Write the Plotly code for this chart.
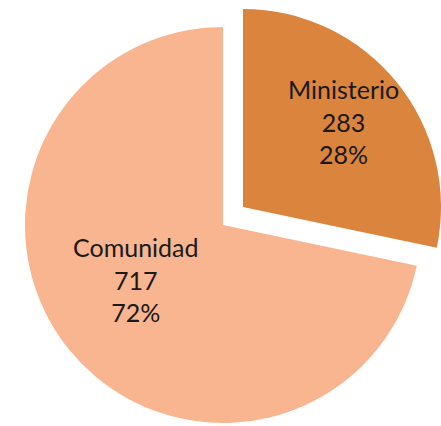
import plotly.graph_objects as go

labels = ["Ministerio", "Comunidad"]
values = [283, 717]
colors = ["#DA843E", "#F8B58F"]

W, H = 441, 426

def px_domain(cx, cy, r):
    return dict(x=[max(0, (cx - r) / W), min(1, (cx + r) / W)],
                y=[max(0, 1 - (cy + r) / H), min(1, 1 - (cy - r) / H)])

total = sum(values)
texts = [f"{l}<br>{v}<br>{round(100 * v / total)}%" for l, v in zip(labels, values)]
text_pos = [(343, 121), (136, 279)]  # label block centres in pixels
font = dict(family="Lato", size=25, color="#1a1a1a")

fig = go.Figure()
# Comunidad (main pie body)
fig.add_trace(go.Pie(
    labels=labels, values=values, sort=False, direction="clockwise", rotation=0,
    marker=dict(colors=["rgba(0,0,0,0)", colors[1]], line=dict(width=0)),
    textinfo="none", hoverinfo="skip", showlegend=False,
    domain=px_domain(223, 225, 198),
))
# Ministerio (exploded slice)
fig.add_trace(go.Pie(
    labels=labels, values=values, sort=False, direction="clockwise", rotation=0,
    marker=dict(colors=[colors[0], "rgba(0,0,0,0)"], line=dict(width=0)),
    textinfo="none", hoverinfo="skip", showlegend=False,
    domain=px_domain(243, 207, 198),
))
for t, (x, y) in zip(texts, text_pos):
    fig.add_annotation(text=t, x=x / W, y=1 - y / H, xref="paper", yref="paper",
                       xanchor="center", yanchor="middle", showarrow=False,
                       font=font, align="center")
fig.update_layout(width=W, height=H, margin=dict(l=0, r=0, t=0, b=0),
                  paper_bgcolor="white", plot_bgcolor="white")
fig.write_html("out.html", config={"displayModeBar": False},
               post_script="document.body.style.margin='0';document.body.style.overflow='hidden';")
